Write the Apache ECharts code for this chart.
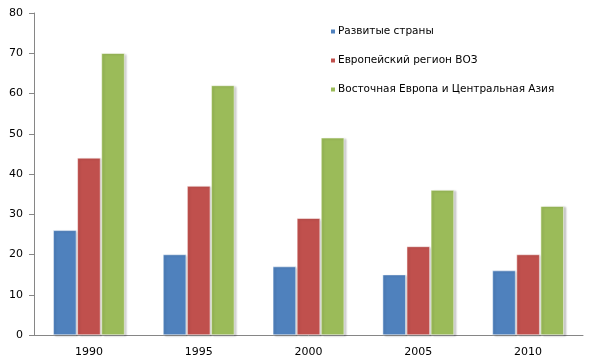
<!DOCTYPE html>
<html><head><meta charset="utf-8">
<script src="https://cdn.jsdelivr.net/npm/echarts@6/dist/echarts.min.js"></script>
<style>html,body{margin:0;padding:0;background:#fff}#c{width:596px;height:364px}</style>
</head><body><div id="c"></div>
<script>
const categories = ['1990','1995','2000','2005','2010'];
const seriesNames = ['Развитые страны','Европейский регион ВОЗ','Восточная Европа и Центральная Азия'];
const developed = [26,20,17,15,16];
const whoEurope = [44,37,29,22,20];
const eeca = [70,62,49,36,32];
const colors = ['#4F81BD','#C0504D','#9BBB59'];
const font = 'DejaVu Sans';
const chart = echarts.init(document.getElementById('c'));
function mk(name, data, color){
  return {name, type:'bar', data, barGap:'4%', barCategoryGap:'35%',
    itemStyle:{color, borderColor:'#fff', borderWidth:0.5, shadowColor:'rgba(0,0,0,0.22)', shadowBlur:2, shadowOffsetX:2, shadowOffsetY:1}};
}
chart.setOption({
  animation:false,
  grid:{left:34,right:13,top:13,bottom:29},
  legend:{orient:'vertical',left:324,top:21,itemGap:18,itemWidth:6,itemHeight:6,icon:'rect',
    textStyle:{fontFamily:font,fontSize:10.5,color:'#000',padding:[0,0,0,-3]}},
  xAxis:{type:'category',data:categories,
    axisLine:{lineStyle:{color:'#868686'}},
    axisTick:{length:5,lineStyle:{color:'#868686'}},
    axisLabel:{fontFamily:font,fontSize:11,color:'#000',margin:12}},
  yAxis:{type:'value',min:0,max:80,interval:10,
    axisLine:{show:true,lineStyle:{color:'#868686'}},
    axisTick:{show:true,length:5,lineStyle:{color:'#868686'}},
    splitLine:{show:false},
    axisLabel:{fontFamily:font,fontSize:11,color:'#000',margin:11}},
  series:[mk(seriesNames[0],developed,colors[0]),mk(seriesNames[1],whoEurope,colors[1]),mk(seriesNames[2],eeca,colors[2])]
});
</script></body></html>
